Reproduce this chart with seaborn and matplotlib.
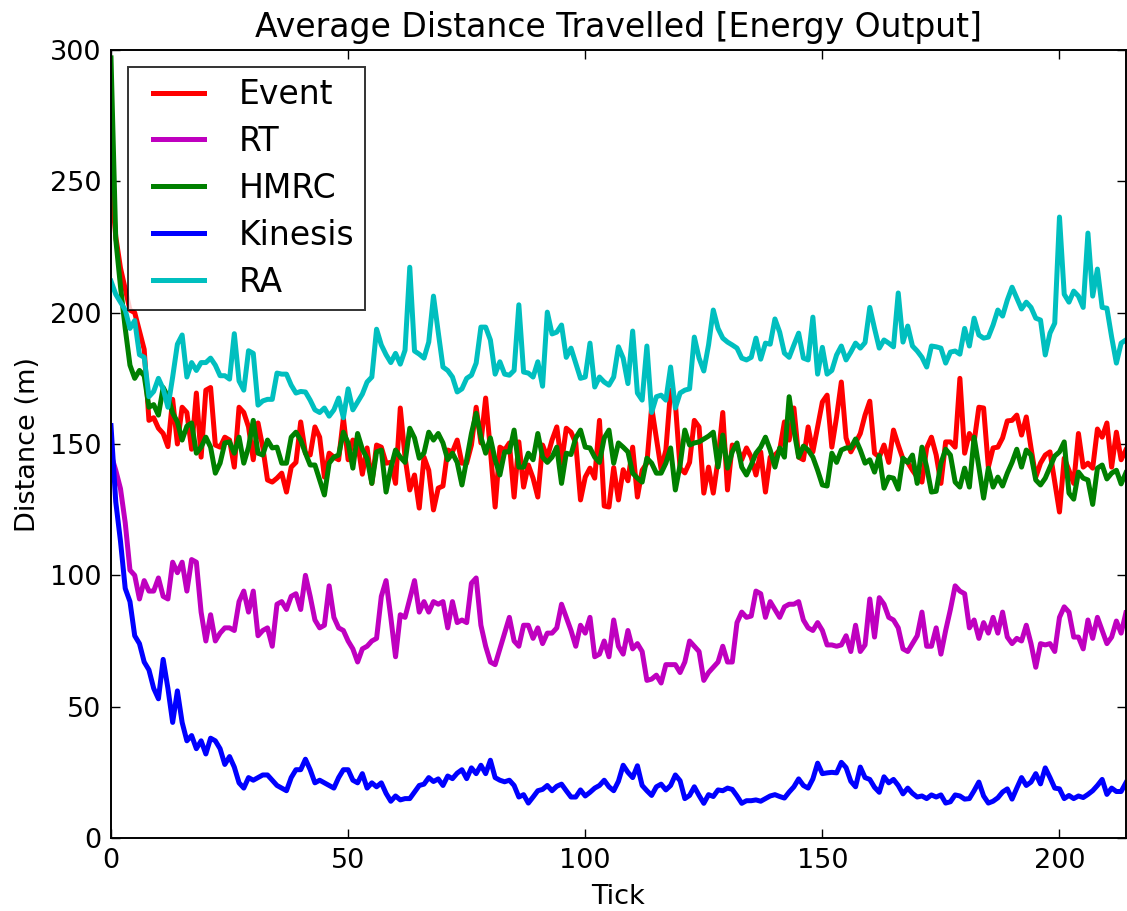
import numpy as np
import pandas as pd
import matplotlib
matplotlib.use("Agg")
import matplotlib.pyplot as plt
from matplotlib.legend_handler import HandlerLine2D
import seaborn as sns

series_names = ["Event", "RT", "HMRC", "Kinesis", "RA"]
series_colors = ["#ff0000", "#bf00bf", "#008000", "#0000ff", "#00bfbf"]

event = [250, 229, 217, 209, 201, 200, 193, 186, 159, 160, 156, 154, 149, 167, 150, 164, 162, 148, 169.4, 145,
         170.5, 171.5, 149.6, 148.8, 152.6, 151.5, 141.2, 164, 162, 156.5, 144, 158, 148.8, 136.3, 135.5, 137, 138.9, 131.7, 141.2, 143,
         158.4, 146.5, 145.8, 156.5, 152.6, 137.4, 146.5, 145, 144, 159.9, 144, 151.5, 150.4, 138.5, 148.5, 135, 149.6, 148.8, 142.7, 143,
         135, 163.7, 145, 132.5, 138.2, 125.6, 145, 140, 124.9, 133.2, 134, 147.7, 147, 151.5, 142.7, 142.7, 149.6, 164, 150.4, 167.5,
         147.7, 126, 148.8, 147.7, 150.4, 129.8, 150.8, 133.6, 142, 137, 129.8, 149.6, 145, 151.5, 156.5, 142.7, 156, 154.5, 150.4, 128.7,
         137.4, 140.8, 137, 159, 126.4, 126, 141, 128.7, 140.2, 136, 148.8, 129.8, 140, 142.7, 164, 152.3, 140.4, 147.7, 170.5, 165.6,
         140.8, 139, 143, 159, 156.5, 131.3, 141.2, 131.3, 144, 162, 132.5, 149.6, 148.8, 144, 148.5, 145, 138.2, 147, 131.7, 145,
         145.8, 147.7, 158.4, 151.5, 163.7, 145, 144, 156.5, 147, 156.5, 166, 168.6, 148.8, 160.3, 173.6, 152.3, 147, 150.4, 154, 161,
         166.3, 146.5, 145, 149.6, 143, 155.3, 149.6, 144.3, 143, 140, 137.4, 135.5, 148.5, 152.6, 145.8, 135, 150.8, 150.8, 148.8, 175,
         146.5, 154, 150.8, 164, 163.7, 141.2, 148.5, 148.8, 152.3, 158.8, 159, 161, 153.4, 160.3, 148.5, 137.4, 142.7, 145.8, 147, 135.5,
         124.1, 144.6, 140, 135, 154, 141.2, 142.7, 140.8, 155.7, 152.6, 158, 141.2, 154.5, 144, 147.7]

rt = [146, 140, 133, 120, 102, 100, 91, 98, 94, 94, 99, 92, 91, 105, 101, 105, 94, 106, 105, 86,
      75, 85, 75, 78, 80, 80, 79, 90, 94, 86, 94, 77, 79, 80, 73, 89, 90, 87, 92, 93,
      87, 100, 92, 83, 80, 81, 96, 84, 80, 79, 75, 72, 67, 72, 73, 75, 76, 92, 98, 84,
      69, 85, 84, 91, 98, 86, 90, 86, 90, 89, 90, 80, 90, 82, 83, 82, 97, 99, 81, 73,
      67, 66, 72, 78, 84, 75, 73, 81, 81, 76, 80, 74, 78, 78, 80, 89, 84, 79, 73, 81,
      78, 84, 69, 70, 75, 69, 83, 73, 70, 79, 72, 74, 71, 60, 60.5, 62, 59, 66, 66, 66,
      63, 67, 75, 73, 71, 60, 63, 65, 67, 73, 67, 67, 82, 86, 84, 84.5, 94, 93, 84, 90,
      87, 84, 88, 89, 89, 90, 83, 80, 79, 82, 79, 73.5, 73.5, 73, 73.5, 77, 71, 81, 71, 73.5,
      91, 76.5, 91.5, 89, 84, 83, 80, 72, 71, 74, 77, 86, 73, 73, 80, 70, 79, 87, 96, 94,
      93, 80, 83, 76, 82, 78, 84, 78, 86, 76.5, 74, 76, 75, 81, 74, 65, 74, 73.5, 74, 71,
      84, 88, 86, 76.5, 76.5, 72, 83, 76, 84, 79, 74, 76.5, 82.6, 78, 85.7]

hmrc = [297, 228, 210, 194, 180, 175, 178, 176, 164, 165, 161, 171.5, 168, 161.8, 158.4, 151.5, 156.8, 158, 146.5, 148.8,
        152.6, 148.8, 138.9, 142.7, 150.4, 150.8, 146.5, 152.6, 142.7, 148.8, 159, 146.5, 145.8, 151.5, 148.5, 148.8, 142.7, 142.7, 152.6, 154.5,
        151.5, 146.5, 142, 142, 136.3, 130.6, 142.7, 145, 145.8, 154.5, 150.4, 140.8, 154, 148, 144.5, 135, 147, 147.7, 131.7, 140.8,
        147.7, 145, 143, 156, 152.3, 144.6, 146.6, 154.5, 151.5, 154, 150.4, 144, 146.5, 143, 134.4, 144, 154, 161.7, 152.6, 146.5,
        152.3, 144, 138.2, 147, 147, 155.3, 141.2, 141.2, 146.5, 144, 154, 145, 143, 145, 148.8, 135, 146.5, 146, 152.3, 155.3,
        148.8, 148.5, 145, 143, 152.3, 155.3, 142.7, 150.4, 148.8, 147, 138.9, 137, 135.5, 144.6, 142.7, 138.9, 138.9, 142.7, 148.5, 132.5,
        142, 155.3, 149.6, 150.4, 150.8, 151.9, 153, 154.5, 141.2, 153.4, 140.8, 147, 150.4, 141.2, 138.2, 142, 146.5, 148.8, 152.6, 147.7,
        141.2, 148.5, 145, 168, 155.3, 145, 149.2, 147.7, 145, 140, 134.4, 134, 146.5, 143, 147.7, 148.5, 148.5, 151.9, 147.7, 142.7,
        144, 139.3, 145.6, 133.2, 137.4, 137, 132.8, 144.6, 143, 145.8, 135, 148.8, 141.2, 131.7, 132, 142.7, 148, 145.8, 135.5, 133.6,
        140.8, 133.6, 152.6, 141.2, 129.4, 140.8, 133.6, 137.4, 134, 138.9, 143, 148, 141.2, 147.7, 145.8, 136.3, 134.4, 137, 141.2, 145.4,
        147, 150.8, 131.3, 129, 139.3, 137, 136.3, 127, 140.8, 142, 136.7, 138.9, 140, 134.8, 139]

kinesis = [157, 128, 113, 95, 90, 77, 74, 67, 64, 57, 53, 68, 57, 44, 56, 44, 37, 39, 34, 37,
           32, 38, 37, 34, 28, 31, 27, 21, 19, 23, 22, 23, 24, 24, 22, 20, 19, 18, 23, 26,
           26, 30, 26, 21, 22, 21, 20, 19, 23, 26, 26, 22, 21, 24.5, 19, 21, 19.5, 21, 17, 14,
           16, 14.5, 15, 15, 17.5, 20, 20.5, 23, 21.5, 22.5, 20, 23.6, 22.6, 24.7, 26, 22.6, 26.7, 24.5, 27.7, 24.5,
           29.6, 23, 22, 21.4, 22, 20, 15.6, 16.5, 13.3, 15.6, 18, 18.5, 20, 18, 19.7, 20.5, 18, 15.6, 15.6, 18.3,
           16, 17.4, 19, 20, 22, 19.5, 18, 21.6, 27.7, 25, 23, 27.5, 20, 18, 16.2, 19.5, 20.5, 18.3, 20, 24,
           21.8, 15, 16.2, 19.5, 16.2, 13.2, 16.5, 15.8, 18.3, 18, 19, 18.5, 16, 13.2, 14.2, 14.2, 14.5, 14, 15, 16,
           16.5, 15.8, 15.2, 17.5, 19.5, 22.5, 20, 19, 22.5, 28.5, 24.5, 24.8, 25, 24.8, 28.8, 26.8, 21.6, 19.5, 27, 23,
           22.3, 19.3, 17.4, 23.3, 21, 22.3, 20, 16.8, 19, 17, 15.6, 16, 15, 16.4, 15.6, 16.4, 13.3, 13.8, 16.4, 16,
           14.8, 15, 18, 21.3, 16, 13.3, 14, 15.3, 17.5, 18.7, 14.8, 19, 23, 20, 21.3, 24.5, 20.6, 26.7, 23, 19,
           18.7, 15, 16.2, 15, 16, 15.4, 16.6, 18, 20, 22.3, 16.6, 19, 17.7, 17.7, 21]

ra = [212, 207, 204, 201, 194, 197, 184, 183, 168, 170, 175, 171, 164, 175.5, 188, 191.5, 175.5, 181, 178, 181,
      181, 182.7, 180, 176, 176, 174.7, 192, 174, 170.5, 185.5, 184.5, 164.8, 166.4, 167, 167, 177, 176.6, 176.6, 172.4, 169.4,
      170, 169.8, 166.7, 163, 162, 163.7, 160.6, 163, 167.5, 160, 171, 163, 166, 169, 173.6, 175.5, 193.7, 187.7, 184, 181,
      184.5, 180.4, 185.7, 217.3, 185.4, 184.2, 182.7, 188.8, 206.3, 192.6, 179.3, 178, 175.5, 169.8, 171, 175, 176.2, 180.8, 194.5, 194.5,
      189.6, 176.6, 181.3, 176.6, 176.2, 178, 203, 177.4, 177, 175.5, 181.3, 172, 200.2, 191.9, 192.6, 195.3, 183, 186.5, 180.8, 175,
      175.5, 188.4, 171.7, 175.5, 173.6, 172.4, 175.5, 187, 182.7, 173, 193, 169.4, 166.7, 187.3, 162, 168, 168.6, 166.7, 179.3, 163.7,
      169.4, 170.5, 171, 190.7, 182.7, 177.8, 187.7, 201, 194, 190.3, 188.8, 187.7, 186.5, 182.7, 182, 183, 190.3, 182.3, 188.4, 188,
      197.6, 192.6, 184.6, 183, 187.7, 192.2, 182.7, 182, 198.3, 176.6, 186.8, 176.6, 178, 183.9, 187.3, 182, 185, 188.4, 186.5, 188.6,
      202, 194, 186.5, 189.6, 188.4, 187, 207.5, 188.8, 194.9, 187.3, 185.4, 183, 179.3, 187.3, 187, 186.5, 180.8, 185, 185.4, 184.2,
      194, 187.3, 197.9, 191.5, 190.3, 190.7, 195.3, 201, 198.7, 204.8, 209.7, 205.6, 201.4, 204, 202, 197.9, 197.2, 183.9, 192.2, 196,
      236.4, 207, 204, 208.2, 206.3, 202, 230.3, 206.3, 216.6, 202, 201.7, 190.7, 180.8, 188.4, 189.6]

x_ticks = [0, 50, 100, 150, 200]
y_ticks = [0, 50, 100, 150, 200, 250, 300]

all_values = [event, rt, hmrc, kinesis, ra]
frames = []
for name, vals in zip(series_names, all_values):
    frames.append(pd.DataFrame({"Tick": np.arange(len(vals)), "Distance": vals, "Series": name}))
df = pd.concat(frames, ignore_index=True)


class RightAlignedLineHandler(HandlerLine2D):
    """Draw the legend line only in the right part of the handle box."""
    def __init__(self, frac=0.78, **kw):
        super().__init__(**kw)
        self.frac = frac

    def get_xdata(self, legend, xdescent, ydescent, width, height, fontsize):
        x0 = -xdescent + width * (1 - self.frac)
        x1 = -xdescent + width
        return [x0, x1], [0.5 * (x0 + x1)]


plt.rcParams.update({
    "font.family": ["DejaVu Sans"],
    "xtick.direction": "in",
    "ytick.direction": "in",
    "xtick.top": True,
    "ytick.right": True,
    "axes.linewidth": 1.4,
    "legend.numpoints": 1,
})

fig = plt.figure(figsize=(11.27, 9.11), dpi=100, facecolor="white")
ax = fig.add_axes([111 / 1127, 1 - 838 / 911, 1 - 111 / 1127 - 0.001, (838 - 50) / 911])

sns.lineplot(data=df, x="Tick", y="Distance", hue="Series", hue_order=series_names,
             palette=series_colors, estimator=None, sort=False, linewidth=3.6, ax=ax)

ax.set_xlim(0, 214)
ax.set_ylim(0, 300)
ax.set_xticks(x_ticks)
ax.set_yticks(y_ticks)
ax.tick_params(axis="both", which="major", labelsize=19.5, length=6.5, width=1.0, colors="black", pad=7)
ax.set_xlabel("Tick", fontsize=19.5, labelpad=7.5)
ax.set_ylabel("Distance (m)", fontsize=19.5, labelpad=6)
ax.set_title("Average Distance Travelled [Energy Output]", fontsize=23.8, pad=9)
for s in ax.spines.values():
    s.set_color("black")

handles, labels = ax.get_legend_handles_labels()
leg = ax.legend(handles, labels, loc="upper left", fontsize=23.8, frameon=True, fancybox=False,
                handlelength=1.95, handletextpad=1.05, labelspacing=0.42,
                borderpad=0.35, borderaxespad=0.5,
                handler_map={type(handles[0]): RightAlignedLineHandler(frac=0.78)})
leg.get_frame().set_edgecolor("black")
leg.get_frame().set_linewidth(1.4)
for line in leg.get_lines():
    line.set_linewidth(3.6)

fig.savefig("out.png", dpi=100, facecolor="white")
